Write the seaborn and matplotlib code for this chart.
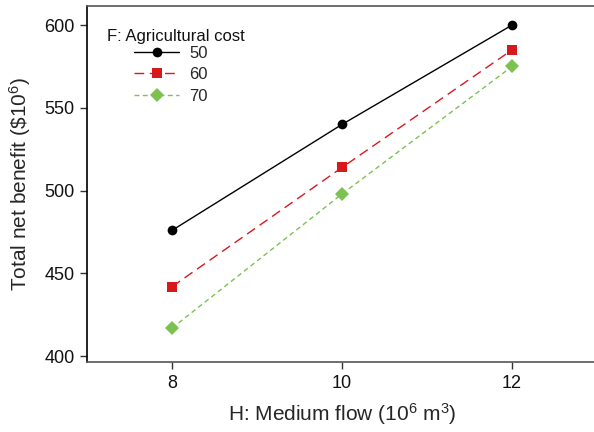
import matplotlib
matplotlib.use("Agg")
import matplotlib.pyplot as plt
import seaborn as sns
import pandas as pd

flow = [8, 10, 12]
cost_levels = ["50", "60", "70"]
benefit_50 = [476, 540, 600]
benefit_60 = [442, 514, 585]
benefit_70 = [417, 498, 575]

df = pd.DataFrame({
    "flow": flow * 3,
    "benefit": benefit_50 + benefit_60 + benefit_70,
    "cost": [c for c in cost_levels for _ in flow],
})

sns.set_theme(style="white")
plt.rcParams["font.family"] = ["Liberation Sans", "DejaVu Sans"]
plt.rcParams["mathtext.fontset"] = "custom"
plt.rcParams["mathtext.rm"] = "Liberation Sans"
plt.rcParams["mathtext.it"] = "Liberation Sans:italic"

fig = plt.figure(figsize=(5.94, 4.32), dpi=100)
ax = fig.add_axes([0.1465, 0.162, 0.8586, 0.824])

palette = {"50": "#000000", "60": "#d7191c", "70": "#7cc250"}
markers = {"50": "o", "60": "s", "70": "D"}
dashes = {"50": "", "60": (7, 4), "70": (3.5, 2.5)}
sns.lineplot(data=df, x="flow", y="benefit", hue="cost", style="cost",
             palette=palette, markers=markers, dashes=dashes,
             markersize=7, markeredgewidth=0, linewidth=1.0, ax=ax)

ax.set_xlim(7, 13)
ax.set_ylim(396.5, 611.5)
ax.set_xticks(flow)
ax.set_yticks([400, 450, 500, 550, 600])
ax.tick_params(axis="both", direction="out", length=5, width=1, labelsize=13,
               color="#333333", labelcolor="#111111", bottom=True, left=True,
               pad=4)
ax.set_xlabel("H: Medium flow (10$^6$ m$^3$)", fontsize=15, labelpad=7)
ax.set_ylabel("Total net benefit (\\$10$^6$)", fontsize=15, labelpad=8)

ax.spines["left"].set_color("#000000")
for s in ["bottom", "top"]:
    ax.spines[s].set_color("#555555")
for s in ["left", "bottom", "top"]:
    ax.spines[s].set_linewidth(1.2)
ax.spines["right"].set_visible(False)

leg = ax.legend(loc="upper left", bbox_to_anchor=(134 / 594, 1 - 46 / 432),
                bbox_transform=fig.transFigure, frameon=False, fontsize=12,
                handlelength=2.7, handletextpad=0.6, labelspacing=0.38,
                borderpad=0, borderaxespad=0)
for h in leg.legend_handles:
    h.set_markersize(7)
fig.text(107 / 594, 1 - 37 / 432, "F: Agricultural cost", fontsize=12,
         ha="left", va="center", color="#111111")

fig.savefig("out.png", dpi=100)
